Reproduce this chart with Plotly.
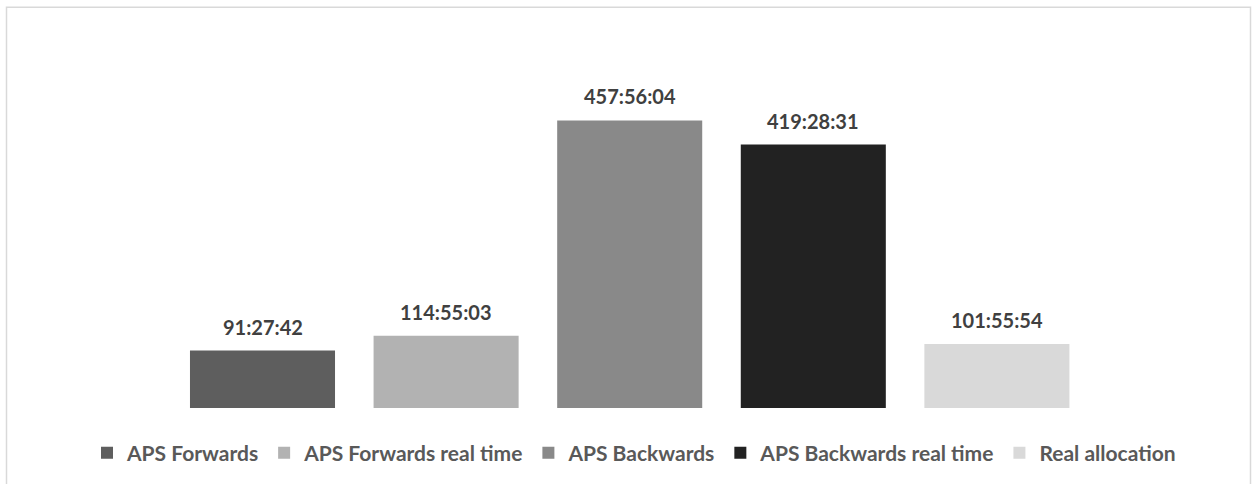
import plotly.graph_objects as go

# Series shown in the chart (one bar per series)
series_names = [
    "APS Forwards",
    "APS Forwards real time",
    "APS Backwards",
    "APS Backwards real time",
    "Real allocation",
]
durations = ["91:27:42", "114:55:03", "457:56:04", "419:28:31", "101:55:54"]
bar_colors = ["#5e5e5e", "#b2b2b2", "#898989", "#222222", "#d9d9d9"]


def to_hours(text):
    h, m, s = (int(p) for p in text.split(":"))
    return h + m / 60 + s / 3600


hours = [to_hours(d) for d in durations]

W, H = 1256, 484
M_L, M_R, M_T, M_B = 10, 10, 93.5, 76
plot_w = W - M_L - M_R
plot_h = H - M_T - M_B

# horizontal placement of the five category slots (pixels)
FIRST_CENTER, STEP = 262.5, 183.6
x_lo = -(FIRST_CENTER - M_L) / STEP
x_hi = x_lo + plot_w / STEP

FONT = "Lato"

fig = go.Figure()
for name, val, col in zip(series_names, hours, bar_colors):
    fig.add_trace(go.Bar(
        x=[name], y=[val], name=name,
        marker=dict(color=col, line=dict(width=0)),
        hoverinfo="skip",
    ))

annotations = [
    dict(x=name, y=val, text=f"<b>{lbl}</b>", showarrow=False,
         xref="x", yref="y", yanchor="bottom", yshift=10,
         font=dict(family=FONT, size=20, color="#404040"))
    for name, val, lbl in zip(series_names, hours, durations)
]


def px_x(px):
    return (px - M_L) / plot_w


def px_y(py):
    return (H - M_B - py) / plot_h


fig.update_layout(
    width=W, height=H,
    margin=dict(l=M_L, r=M_R, t=M_T, b=M_B, pad=0, autoexpand=False),
    paper_bgcolor="white", plot_bgcolor="white",
    barmode="relative", bargap=0.21,
    showlegend=True,
    legend=dict(
        orientation="h", xref="paper", yref="container",
        x=px_x(634), xanchor="center",
        y=1 - 453 / H, yanchor="middle",
        font=dict(family=FONT, size=21, color="#595959", weight="bold"),
        itemwidth=30, traceorder="normal",
    ),
    xaxis=dict(showticklabels=False, showgrid=False, zeroline=False,
               showline=False, ticks="", range=[x_lo, x_hi]),
    yaxis=dict(range=[0, 500], visible=False),
    annotations=annotations,
    shapes=[dict(type="rect", xref="paper", yref="paper",
                 x0=px_x(6.5), x1=px_x(1250.5), y0=px_y(6.5), y1=px_y(492),
                 line=dict(color="#d9d9d9", width=1.5), layer="below")],
)

fig.write_html("out.html")
